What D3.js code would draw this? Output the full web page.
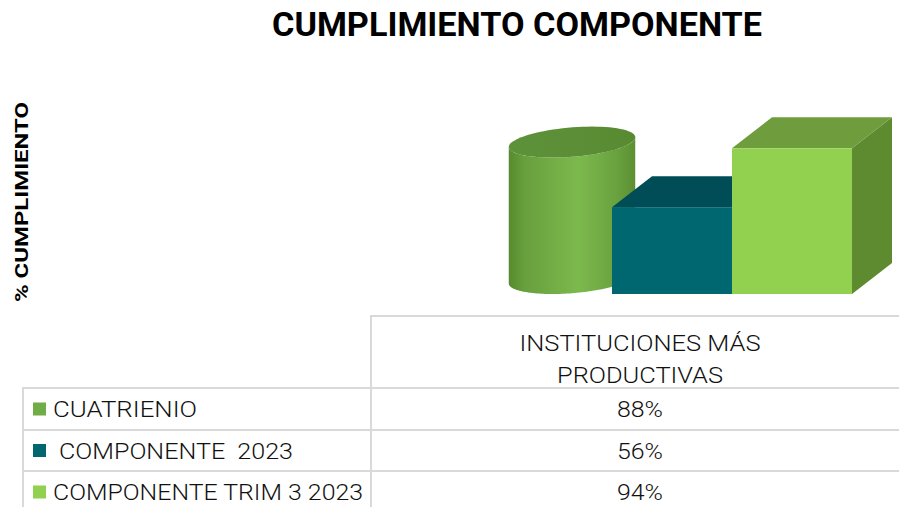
<!DOCTYPE html>
<html>
<head>
<meta charset="utf-8">
<script src="https://cdn.jsdelivr.net/npm/d3@7"></script>
<style>
  html, body { margin: 0; padding: 0; background: #fff; }
  svg { display: block; }
  text { white-space: pre; }
</style>
</head>
<body>
<svg id="chart" width="899" height="507"></svg>
<script>
// Chart data
const chartTitle = "CUMPLIMIENTO COMPONENTE";
const axisTitle = "% CUMPLIMIENTO";
const categoryLines = ["INSTITUCIONES MÁS", "PRODUCTIVAS"];
const seriesNames = ["CUATRIENIO", " COMPONENTE  2023", "COMPONENTE TRIM 3 2023"];
const seriesValues = [88, 56, 94];
const valueDomain = [0, 100];

// Series styling: front, top, side colours and shape
const seriesStyle = [
  { shape: "cylinder", key: "#70ad47", front: "#70ad47", top: "#5b8e37", side: "#5a8a30" },
  { shape: "box", key: "#00666f", front: "#006670", top: "#004d57", side: "#003d45" },
  { shape: "box", key: "#92d050", front: "#92d050", top: "#6f9d3d", side: "#5e8a30" }
];

const svg = d3.select("#chart");
const defs = svg.append("defs");
const FONT = "Roboto, 'Noto Sans', sans-serif";

// Scales for the 3-D plot area
const x = d3.scaleBand().domain(d3.range(seriesValues.length)).range([492, 852]).paddingInner(0);
const y = d3.scaleLinear().domain(valueDomain).range([294, 139]);
const depth = { dx: 40, dy: -31 };

// Title
svg.append("text")
  .attr("x", 517).attr("y", 36)
  .attr("text-anchor", "middle")
  .attr("font-family", FONT).attr("font-weight", 700).attr("font-size", 34)
  .attr("textLength", 490).attr("lengthAdjust", "spacingAndGlyphs")
  .attr("fill", "#000")
  .text(chartTitle);

// Vertical axis title
svg.append("text")
  .attr("transform", "translate(27.5,202) rotate(-90)")
  .attr("text-anchor", "middle")
  .attr("font-family", FONT).attr("font-weight", 700).attr("font-size", 18)
  .attr("textLength", 200).attr("lengthAdjust", "spacingAndGlyphs")
  .attr("fill", "#000")
  .text(axisTitle);

// Cylinder body gradient
const cylGrad = defs.append("linearGradient")
  .attr("id", "cylBody").attr("gradientUnits", "objectBoundingBox")
  .attr("x1", 0).attr("x2", 1).attr("y1", 0).attr("y2", 0);
[[0, "#578a2e"], [0.12, "#679f3d"], [0.55, "#7cb94d"], [0.85, "#69a23f"], [1, "#5c8f33"]]
  .forEach(([o, c]) => cylGrad.append("stop").attr("offset", o).attr("stop-color", c));
const topGrad = defs.append("linearGradient")
  .attr("id", "cylTop").attr("x1", 0).attr("x2", 1).attr("y1", 0).attr("y2", 0);
[[0, "#5e923a"], [1, "#588a32"]]
  .forEach(([o, c]) => topGrad.append("stop").attr("offset", o).attr("stop-color", c));

const plot = svg.append("g");

seriesValues.forEach((v, i) => {
  const st = seriesStyle[i];
  const x0 = x(i), w = x.bandwidth();
  const yTop = y(v), yBase = y(valueDomain[0]);
  const g = plot.append("g");
  if (st.shape === "box") {
    // right face
    g.append("path")
      .attr("d", `M${x0 + w},${yTop} L${x0 + w + depth.dx},${yTop + depth.dy} L${x0 + w + depth.dx},${yBase + depth.dy} L${x0 + w},${yBase} Z`)
      .attr("fill", st.side);
    // top face
    g.append("path")
      .attr("d", `M${x0},${yTop} L${x0 + depth.dx},${yTop + depth.dy} L${x0 + w + depth.dx},${yTop + depth.dy} L${x0 + w},${yTop} Z`)
      .attr("fill", st.top);
    // front face
    g.append("rect")
      .attr("x", x0).attr("y", yTop).attr("width", w).attr("height", yBase - yTop)
      .attr("fill", st.front);
  } else {
    // cylinder standing in the middle of the cell's depth
    const cx = x0 + w / 2 + depth.dx / 2;
    const r = w / 2;
    const hx = depth.dx / 2, hy = depth.dy / 2;
    const pt = (cy, t) => [cx + r * Math.cos(t) + hx * Math.sin(t), cy + hy * Math.sin(t)];
    const cTop = yTop + hy, cBot = yBase + hy;
    const tR = Math.atan2(hx, r);
    const n = 80;
    const bottomArc = d3.range(n + 1).map(k => pt(cBot, tR - Math.PI * k / n));
    const topArc = d3.range(n + 1).map(k => pt(cTop, tR - Math.PI + Math.PI * k / n));
    const line = d3.line();
    g.append("path")
      .attr("d", line(bottomArc.concat(topArc)) + "Z")
      .attr("fill", "url(#cylBody)");
    const ell = d3.range(n).map(k => pt(cTop, 2 * Math.PI * k / n));
    g.append("path")
      .attr("d", line(ell) + "Z")
      .attr("fill", "url(#cylTop)");
  }
});

// Data table
const grid = "#d9d9d9";
const tbl = svg.append("g");
const colX = 371, leftX = 23, rightX = 899;
const headerTop = 316;
const rowY = [388, 430, 471, 513];

tbl.append("line").attr("x1", colX).attr("x2", rightX).attr("y1", headerTop).attr("y2", headerTop)
  .attr("stroke", grid).attr("stroke-width", 2);
tbl.append("line").attr("x1", colX).attr("x2", colX).attr("y1", headerTop - 1).attr("y2", 507)
  .attr("stroke", grid).attr("stroke-width", 2);
tbl.append("line").attr("x1", leftX).attr("x2", leftX).attr("y1", rowY[0] - 1).attr("y2", 507)
  .attr("stroke", grid).attr("stroke-width", 2);
rowY.slice(0, 3).forEach(yy => {
  tbl.append("line").attr("x1", leftX).attr("x2", rightX).attr("y1", yy).attr("y2", yy)
    .attr("stroke", grid).attr("stroke-width", 2);
});

const valColX = 640;
const tableFont = { size: 22, weight: 300, fill: "#111" };
// Header (category) text
categoryLines.forEach((t, k) => {
  tbl.append("text")
    .attr("x", valColX).attr("y", 351 + k * 32)
    .attr("text-anchor", "middle")
    .attr("font-family", FONT).attr("font-weight", tableFont.weight).attr("font-size", tableFont.size)
    .attr("textLength", k === 0 ? 241 : 166).attr("lengthAdjust", "spacingAndGlyphs")
    .attr("fill", tableFont.fill)
    .text(t);
});

// Rows: legend key, series name, value
const nameWidths = [144, 234, 310];
seriesNames.forEach((name, i) => {
  const cy = (rowY[i] + rowY[i + 1]) / 2;
  tbl.append("rect")
    .attr("x", 33).attr("y", cy - 6.5).attr("width", 13).attr("height", 13)
    .attr("fill", seriesStyle[i].key);
  const lead = name.length - name.trimStart().length;
  tbl.append("text")
    .attr("x", 53 + lead * 6).attr("y", cy + 8)
    .attr("font-family", FONT).attr("font-weight", tableFont.weight).attr("font-size", tableFont.size)
    .attr("textLength", nameWidths[i]).attr("lengthAdjust", "spacingAndGlyphs")
    .attr("fill", tableFont.fill)
    .text(name.trimStart());
  tbl.append("text")
    .attr("x", valColX).attr("y", cy + 8)
    .attr("text-anchor", "middle")
    .attr("font-family", FONT).attr("font-weight", tableFont.weight).attr("font-size", tableFont.size)
    .attr("textLength", 46).attr("lengthAdjust", "spacingAndGlyphs")
    .attr("fill", tableFont.fill)
    .text(`${seriesValues[i]}%`);
});
</script>
</body>
</html>
